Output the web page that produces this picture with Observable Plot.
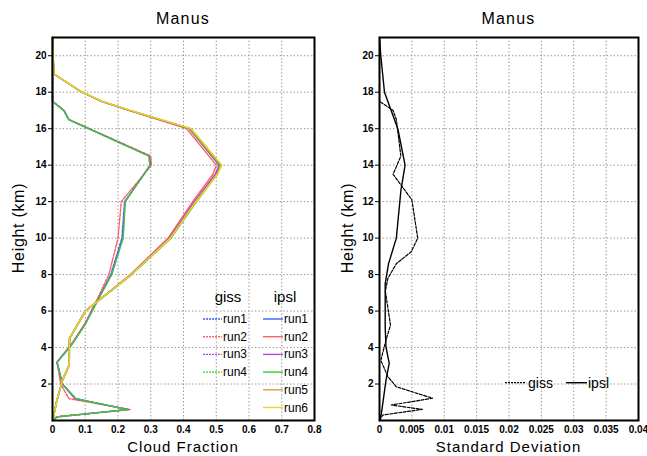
<!DOCTYPE html>
<html>
<head>
<meta charset="utf-8">
<script src="https://cdn.jsdelivr.net/npm/d3@7"></script>
<script src="https://cdn.jsdelivr.net/npm/@observablehq/plot@0.6"></script>
<style>
  html, body { margin: 0; padding: 0; background: #fff; }
  #wrap { position: relative; width: 647px; height: 456px; overflow: hidden; font-family: "Liberation Sans", Arial, sans-serif; }
  .panel { position: absolute; top: 0; }
  .panel svg text { font-weight: bold; font-size: 10px; font-family: "Liberation Sans", Arial, sans-serif; fill: #000; }
  .lbl { position: absolute; white-space: nowrap; color: #000; font-family: "Liberation Sans", Arial, sans-serif; }
  #overlay { position: absolute; left: 0; top: 0; pointer-events: none; }
</style>
</head>
<body>
<div id="wrap">
  <div id="left" class="panel" style="left:0px"></div>
  <div id="right" class="panel" style="left:323px"></div>
</div>
<script>
// ---------- Data ----------
const heightTicks = [2, 4, 6, 8, 10, 12, 14, 16, 18, 20];
const cfTicks = [0, 0.1, 0.2, 0.3, 0.4, 0.5, 0.6, 0.7, 0.8];
const sdTicks = [0, 0.005, 0.01, 0.015, 0.02, 0.025, 0.03, 0.035, 0.04];

const runNames = ["run1", "run2", "run3", "run4", "run5", "run6"];
const runColors = ["#3c5cff", "#ff6060", "#b048d0", "#30d030", "#d8a048", "#e6d428"];

// Cloud fraction, giss (dashed)
const gissHeights = [0, 0.2, 0.6, 1.2, 2, 3.2, 4.2, 5.3, 6.6, 8, 10, 12, 14, 14.5, 16.5, 17, 17.5, 18, 19, 20, 21];
const gissRun1 = [0, 0.014, 0.230, 0.070, 0.030, 0.014, 0.060, 0.100, 0.137, 0.178, 0.212, 0.220, 0.300, 0.297, 0.050, 0.035, 0, 0, 0, 0, 0];
const gissRun2 = [0, 0.014, 0.237, 0.050, 0.025, 0.014, 0.058, 0.098, 0.135, 0.172, 0.200, 0.210, 0.302, 0.300, 0.050, 0.035, 0, 0, 0, 0, 0];
const gissRun3 = [0, 0.014, 0.232, 0.068, 0.030, 0.013, 0.060, 0.100, 0.138, 0.180, 0.215, 0.222, 0.298, 0.295, 0.050, 0.035, 0, 0, 0, 0, 0];
const gissRun4 = [0, 0.012, 0.228, 0.072, 0.031, 0.015, 0.061, 0.101, 0.139, 0.181, 0.216, 0.222, 0.297, 0.294, 0.049, 0.034, 0, 0, 0, 0, 0];

// Cloud fraction, ipsl (solid)
const ipslHeights = [0, 0.2, 1, 2.2, 3, 4.5, 6, 8, 10, 12, 13.5, 14, 16, 17, 17.5, 18, 19, 20, 21];
const ipslRun1 = [0, 0.003, 0.012, 0.030, 0.050, 0.052, 0.100, 0.240, 0.358, 0.435, 0.500, 0.512, 0.420, 0.235, 0.150, 0.090, 0.004, 0.002, 0];
const ipslRun2 = [0, 0.003, 0.012, 0.030, 0.050, 0.052, 0.100, 0.238, 0.353, 0.428, 0.490, 0.500, 0.410, 0.232, 0.150, 0.090, 0.004, 0.002, 0];
const ipslRun3 = [0, 0.003, 0.012, 0.030, 0.050, 0.052, 0.100, 0.240, 0.357, 0.433, 0.497, 0.508, 0.418, 0.235, 0.150, 0.090, 0.004, 0.002, 0];
const ipslRun4 = [0, 0.003, 0.012, 0.031, 0.051, 0.053, 0.101, 0.242, 0.362, 0.440, 0.503, 0.512, 0.420, 0.236, 0.151, 0.090, 0.004, 0.002, 0];
const ipslRun5 = [0, 0.003, 0.012, 0.030, 0.050, 0.052, 0.100, 0.241, 0.360, 0.437, 0.502, 0.515, 0.422, 0.237, 0.152, 0.091, 0.004, 0.002, 0];
const ipslRun6 = [0, 0.003, 0.012, 0.030, 0.050, 0.052, 0.100, 0.241, 0.360, 0.438, 0.504, 0.517, 0.424, 0.238, 0.152, 0.091, 0.004, 0.002, 0];

// Standard deviation
const sdGissHeights = [0, 0.3, 0.61, 0.85, 1.22, 1.85, 2.4, 3.3, 4.4, 5.23, 7.1, 7.8, 8.6, 9.25, 10, 12.1, 13.5, 14.5, 16.5, 17, 17.5, 21];
const sdGiss = [0, 0.0005, 0.0066, 0.0018, 0.0082, 0.0026, 0.0013, 0.0002, 0.0010, 0.0017, 0.0009, 0.0013, 0.0026, 0.0049, 0.0059, 0.0050, 0.0021, 0.0033, 0.0026, 0.0021, 0, 0];
const sdIpslHeights = [0, 0.4, 2.2, 3.13, 4.04, 5.1, 7.5, 8.6, 10, 12.6, 14, 16, 18, 20, 21];
const sdIpsl = [0, 0.0003, 0.0010, 0.0015, 0.0010, 0.00088, 0.00088, 0.0014, 0.0026, 0.0033, 0.00395, 0.00283, 0.00077, 0.0002, 0];

// ---------- Build tables ----------
const toRows = (heights, values) => heights.map((h, i) => ({h, v: values[i]}));
const gissRuns = [gissRun1, gissRun2, gissRun3, gissRun4];
const ipslRuns = [ipslRun1, ipslRun2, ipslRun3, ipslRun4, ipslRun5, ipslRun6];

const gridStyle = {stroke: "#9a9a9a", strokeOpacity: 1, strokeWidth: 1, strokeDasharray: "1.5,2"};
const fmt = d => d === 0 ? "0" : d3.format("~g")(d);

const leftMarks = [
  Plot.gridX(cfTicks, gridStyle),
  Plot.gridY(heightTicks, gridStyle),
  ...gissRuns.map((vals, i) => Plot.line(toRows(gissHeights, vals), {x: "v", y: "h", stroke: runColors[i], strokeWidth: 1.4, strokeDasharray: "3,1.5"})),
  ...ipslRuns.map((vals, i) => Plot.line(toRows(ipslHeights, vals), {x: "v", y: "h", stroke: runColors[i], strokeWidth: 1.4})),
  Plot.frame({stroke: "black", strokeWidth: 2}),
  Plot.axisX(cfTicks, {tickSize: 0, tickPadding: 5, tickFormat: fmt, label: null}),
  Plot.axisY(heightTicks, {tickSize: 4, tickPadding: 2, label: null})
];

const left = Plot.plot({
  width: 323, height: 456,
  marginLeft: 52, marginRight: 9, marginTop: 37, marginBottom: 36,
  x: {domain: [0, 0.8]},
  y: {domain: [0, 21]},
  style: {background: "transparent", overflow: "visible"},
  marks: leftMarks
});
document.getElementById("left").appendChild(left);

const rightMarks = [
  Plot.gridX(sdTicks, gridStyle),
  Plot.gridY(heightTicks, gridStyle),
  Plot.line(toRows(sdGissHeights, sdGiss), {x: "v", y: "h", stroke: "black", strokeWidth: 1.2, strokeDasharray: "3,1.5"}),
  Plot.line(toRows(sdIpslHeights, sdIpsl), {x: "v", y: "h", stroke: "black", strokeWidth: 1.4}),
  Plot.frame({stroke: "black", strokeWidth: 2}),
  Plot.axisX(sdTicks, {tickSize: 0, tickPadding: 5, tickFormat: fmt, label: null}),
  Plot.axisY(heightTicks, {tickSize: 4, tickPadding: 2, label: null})
];

const right = Plot.plot({
  width: 324, height: 456,
  marginLeft: 56, marginRight: 9, marginTop: 37, marginBottom: 36,
  x: {domain: [0, 0.04]},
  y: {domain: [0, 21]},
  style: {background: "transparent", overflow: "visible"},
  marks: rightMarks
});
document.getElementById("right").appendChild(right);

// ---------- Titles and axis labels (HTML) ----------
const wrap = document.getElementById("wrap");
function label(text, css) {
  const d = document.createElement("div");
  d.className = "lbl";
  d.textContent = text;
  Object.assign(d.style, css);
  wrap.appendChild(d);
  return d;
}
const titleText = "Manus";
label(titleText, {left: "52px", width: "262px", top: "10px", textAlign: "center", fontSize: "16px", letterSpacing: "1.2px"});
label(titleText, {left: "379px", width: "259px", top: "10px", textAlign: "center", fontSize: "16px", letterSpacing: "1.2px"});
label("Cloud Fraction", {left: "52px", width: "262px", top: "438px", textAlign: "center", fontSize: "15px", letterSpacing: "1px"});
label("Standard Deviation", {left: "379px", width: "259px", top: "438px", textAlign: "center", fontSize: "15px", letterSpacing: "1px"});
label("Height (km)", {left: "-31px", width: "100px", top: "219px", textAlign: "center", fontSize: "16px", letterSpacing: "0.7px", transform: "rotate(-90deg)"});
label("Height (km)", {left: "298px", width: "100px", top: "219px", textAlign: "center", fontSize: "16px", letterSpacing: "0.7px", transform: "rotate(-90deg)"});

// ---------- Legends (overlay) ----------
const ov = d3.select(wrap).append("svg").attr("id", "overlay").attr("width", 647).attr("height", 456);
const lg = ov.append("g").attr("font-family", "Liberation Sans, Arial, sans-serif");
lg.append("text").attr("x", 228).attr("y", 302).attr("text-anchor", "middle").attr("font-size", 15).text("giss");
lg.append("text").attr("x", 285).attr("y", 302).attr("text-anchor", "middle").attr("font-size", 15).text("ipsl");
runNames.forEach((name, i) => {
  const yy = 319 + i * 17.7;
  if (i < 4) {
    lg.append("line").attr("x1", 203).attr("x2", 222).attr("y1", yy).attr("y2", yy)
      .attr("stroke", runColors[i]).attr("stroke-width", 1.4).attr("stroke-dasharray", "2,1");
    lg.append("text").attr("x", 223).attr("y", yy + 4).attr("font-size", 12).text(name);
  }
  lg.append("line").attr("x1", 263).attr("x2", 283).attr("y1", yy).attr("y2", yy)
    .attr("stroke", runColors[i]).attr("stroke-width", 1.4);
  lg.append("text").attr("x", 284).attr("y", yy + 4).attr("font-size", 12).text(name);
});
// right legend
const ry = 382.7;
lg.append("line").attr("x1", 505).attr("x2", 526).attr("y1", ry).attr("y2", ry).attr("stroke", "black").attr("stroke-width", 1.2).attr("stroke-dasharray", "2,1");
lg.append("text").attr("x", 528).attr("y", ry + 5).attr("font-size", 14).text("giss");
lg.append("line").attr("x1", 566).attr("x2", 587).attr("y1", ry).attr("y2", ry).attr("stroke", "black").attr("stroke-width", 1.4);
lg.append("text").attr("x", 588).attr("y", ry + 5).attr("font-size", 14).text("ipsl");
</script>
</body>
</html>
